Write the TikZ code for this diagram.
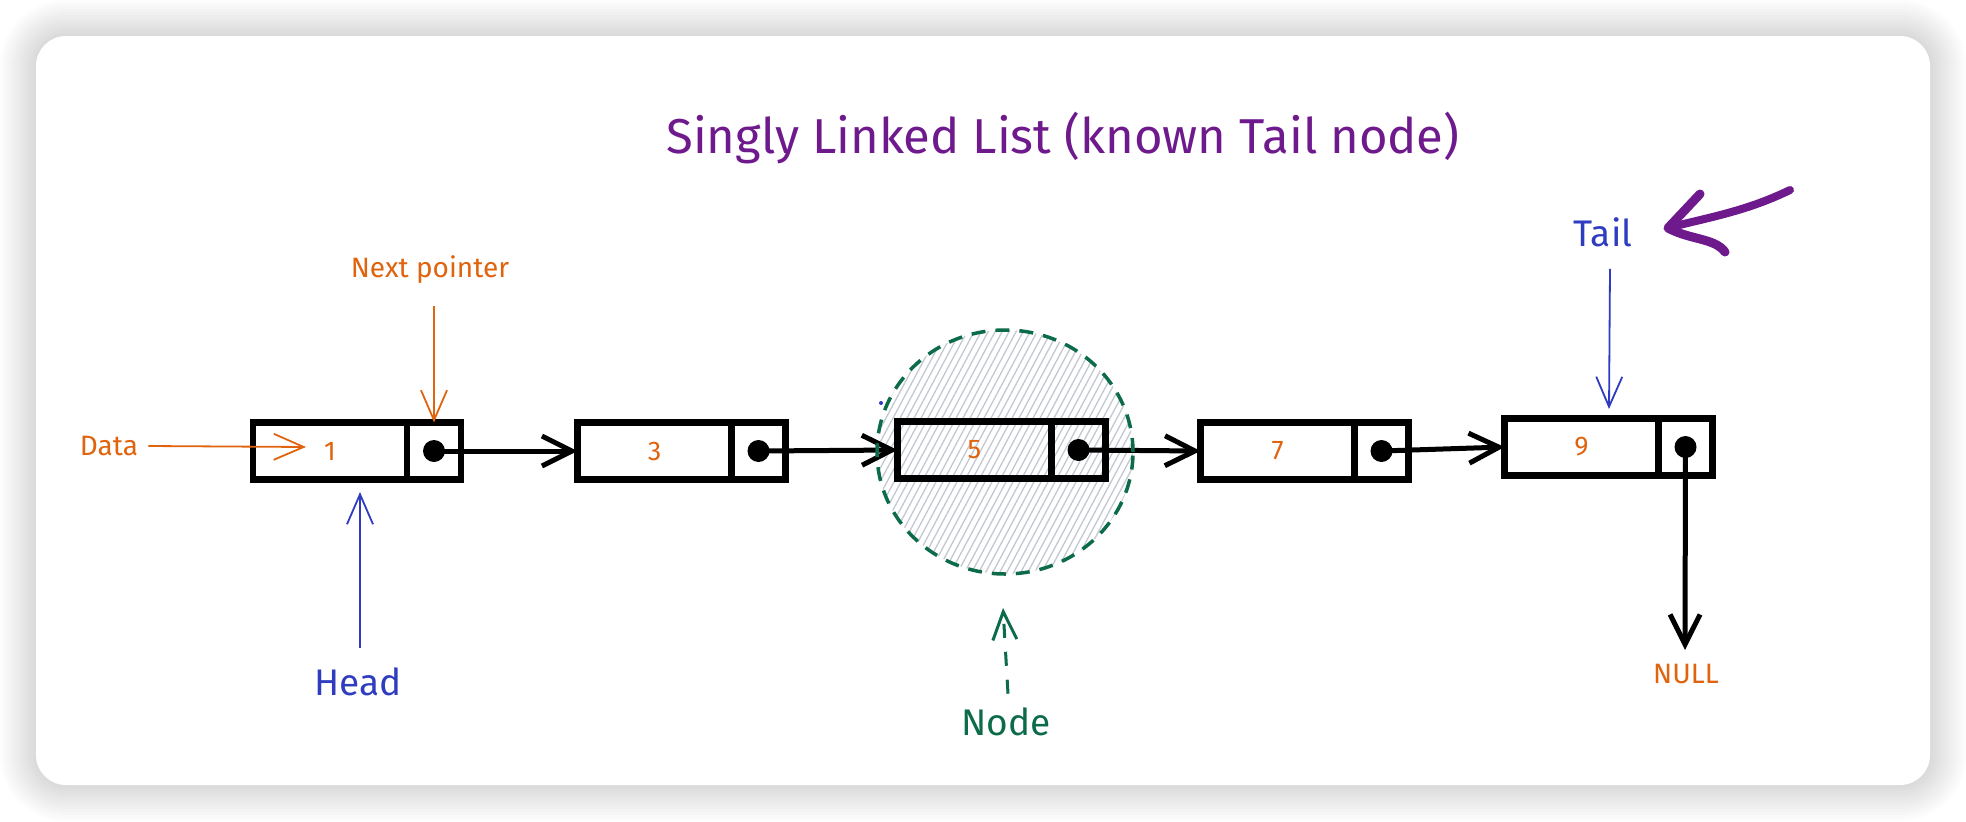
\documentclass[tikz,border=0pt]{standalone}
\usepackage{fontspec}
\setmainfont{Fira Sans}
\usetikzlibrary{arrows.meta,shapes.geometric,calc}
\definecolor{ttl}{HTML}{6E1A8C}
\definecolor{org}{HTML}{E0630D}
\definecolor{blu}{HTML}{2F3CC0}
\definecolor{grn}{HTML}{0C6B48}
\definecolor{hatchc}{HTML}{C3C8D1}
\begin{document}
\begin{tikzpicture}[x=1pt,y=-1pt,
  datab/.style={draw=black, line width=6.5pt, minimum width=154pt, minimum height=57pt, inner sep=0pt, outer sep=0pt, text=org, font=\fontsize{27}{30}\selectfont},
  ptrb/.style={draw=black, line width=6.5pt, minimum width=54pt, minimum height=57pt, inner sep=0pt, outer sep=0pt, anchor=west},
  dotn/.style={circle, fill=black, minimum size=22pt, inner sep=0pt},
  link/.style={line width=5pt, -{Straight Barb[length=30pt, width=30pt, line width=5pt]}},
  thinarr/.style={line width=1.8pt, -{Straight Barb[length=30pt, width=26pt, line width=1.8pt]}},
  lbl/.style={inner sep=0pt},
  smallf/.style={font=\fontsize{28}{30}\selectfont},
  bigf/.style={font=\fontsize{37}{40}\selectfont}
]
\useasboundingbox (0,0) rectangle (1966,822);
\fill[white] (0,0) rectangle (1966,822);
% shadow
\foreach \e in {3,6,...,36}{
  \fill[black, opacity=0.012, rounded corners={30pt+\e pt}] (36-\e,36-\e) rectangle (1930+\e,785+\e);
}
\fill[white, rounded corners=30pt] (36,36) rectangle (1930,785);

% title
\node[lbl, text=ttl, font=\fontsize{49}{54}\selectfont] (title) at (1063,138) {Singly Linked List (known Tail node)};

% hatch of the highlighted node
\begin{scope}
  \clip (1005,452) ellipse [x radius=128pt, y radius=122pt];
  \foreach \i in {-360,-353,...,360}{
    \draw[hatchc, line width=1.3pt] (1005+\i-80,600) -- (1005+\i+80,300);
  }
\end{scope}

% list nodes
\node[datab] (d1) at (330,451) {1};
\node[ptrb] (p1) at (d1.east) {};
\node[dotn] (c1) at (p1.center) {};

\node[datab] (d3) at (654.5,451) {3};
\node[ptrb] (p3) at (d3.east) {};
\node[dotn] (c3) at (p3.center) {};

\node[datab] (d5) at (974.5,450) {5};
\node[ptrb] (p5) at (d5.east) {};
\node[dotn] (c5) at (p5.center) {};

\node[datab] (d7) at (1277.5,451) {7};
\node[ptrb] (p7) at (d7.east) {};
\node[dotn] (c7) at (p7.center) {};

\node[datab] (d9) at (1581.5,447) {9};
\node[ptrb] (p9) at (d9.east) {};
\node[dotn] (c9) at (p9.center) {};

% links
\draw[link] (c1.center) -- (d3.west);
\draw[link] (c3.center) -- (d5.west);
\draw[link] (c5.center) -- (d7.west);
\draw[link] (c7.center) -- (d9.west);
\coordinate (nullend) at (1685,650);
\draw[link] (c9.center) -- (nullend);
\node[lbl, text=org, smallf] (null) at (1686,674) {NULL};

% dashed circle marking a node
\node[ellipse, draw=grn, line width=3.5pt, dash pattern=on 14pt off 10pt, minimum width=256pt, minimum height=244pt, inner sep=0pt] (nodecirc) at (1005,452) {};
\fill[blu] (881,403) circle (2pt);

% labels
\node[lbl, text=org, smallf] (np) at (430,270) {Next pointer};
\draw[thinarr, org, shorten <=22pt] (p1.north |- np.south) -- (p1.north);

\node[lbl, text=org, smallf] (dl) at (109,446) {Data};
\coordinate (datatip) at (306,447);
\draw[thinarr, org] ($(dl.east)+(10,0)$) -- (datatip);

\node[lbl, text=blu, bigf] (hl) at (358,682) {Head};
\coordinate (headtip) at (360,492);
\draw[thinarr, blu] ($(hl.north)+(2,-20)$) -- (headtip);

\node[lbl, text=grn, bigf] (nl) at (1006,722) {Node};
\coordinate (nodetip) at (1003,608);
\draw[grn, line width=3pt, dash pattern=on 14pt off 14pt, -{Straight Barb[length=28pt, width=24pt, line width=3pt]}] ($(nl.north)+(2,-14)$) -- (nodetip);

\node[lbl, text=blu, bigf] (tl) at (1603,232) {Tail};
\coordinate (tailtip) at (1609,409);
\draw[thinarr, blu] ($(tl.south)+(7,22)$) -- (tailtip);

% purple pointer to Tail
\coordinate (pa) at (1790,190);
\coordinate (ptip) at (1668,228);
\coordinate (pb1) at (1700,194);
\coordinate (pb2) at (1725,252);
\draw[ttl, line width=8pt, line cap=round, line join=round] (pa) .. controls (1745,212) and (1705,218) .. (ptip);
\draw[ttl, line width=9pt, line cap=round, line join=round] (pb1) -- (ptip) .. controls (1690,240) and (1715,238) .. (pb2);
\end{tikzpicture}
\end{document}
